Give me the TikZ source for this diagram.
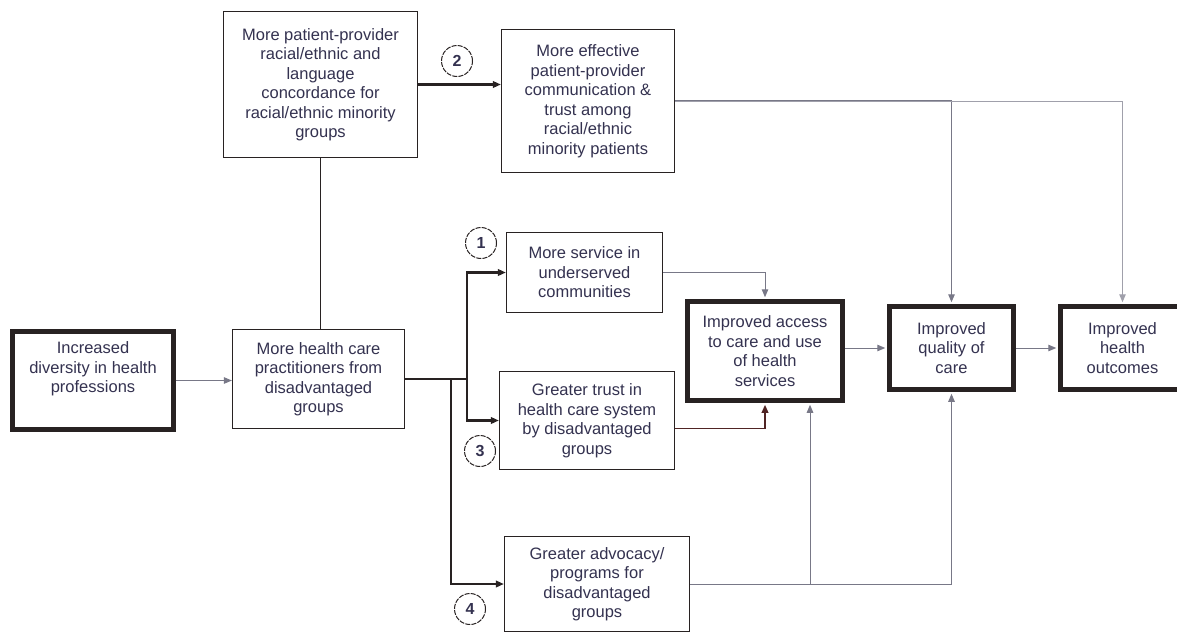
\documentclass[tikz,border=0pt]{standalone}
\usepackage{fontspec}
\setmainfont{Liberation Sans}
\usetikzlibrary{arrows.meta}
\definecolor{ink}{RGB}{52,50,80}
\definecolor{edge}{RGB}{40,34,34}
\definecolor{wire}{RGB}{120,120,135}
\definecolor{rust}{RGB}{80,36,36}

\begin{document}
\begin{tikzpicture}[x=1pt,y=-1pt,
    every node/.style={text=ink,font=\fontsize{16.5}{19.5}\selectfont,align=center,inner sep=0pt},
    box/.style={draw=edge,line width=1.2pt,fill=white},
    heavybox/.style={draw=edge,line width=4.5pt,fill=white},
    num/.style={draw=edge,dash pattern=on 5pt off 1.2pt,circle,minimum size=31pt,line width=1pt,font=\fontsize{16}{19}\selectfont\bfseries},
    tip/.style={-{Triangle[length=8pt,width=6.5pt]}},
    trunk/.style={draw=edge,line width=2.6pt},
    feed/.style={draw=wire,line width=1pt}]
  \useasboundingbox (0,0) rectangle (1177,632);
  % left part
  \node[heavybox,minimum width=161pt,minimum height=98pt] (div) at (93,380.5) {};
  \node (divtxt) at (93,369) {Increased\\diversity in health\\professions};
  \node[box,minimum width=172pt,minimum height=99pt] (hcp) at (318.5,379) {More health care\\practitioners from\\disadvantaged\\groups};
  \node[box,minimum width=194pt,minimum height=146pt] (conc) at (320.5,84.5) {More patient-provider\\racial/ethnic and\\language\\concordance for\\racial/ethnic minority\\groups};
  % middle column
  \node[box,minimum width=173pt,minimum height=143pt] (comm) at (588,101) {More effective\\patient-provider\\communication \&\\trust among\\racial/ethnic\\minority patients};
  \node[box,minimum width=156pt,minimum height=80pt] (serv) at (584.5,272.5) {More service in\\underserved\\communities};
  \node[box,minimum width=175pt,minimum height=98pt] (trust) at (587,420.5) {Greater trust in\\health care system\\by disadvantaged\\groups};
  \node[box,minimum width=185pt,minimum height=95pt] (adv) at (597,584) {Greater advocacy/\\programs for\\disadvantaged\\groups};
  % outcomes
  \node[heavybox,minimum width=155pt,minimum height=99pt] (acc) at (765,351) {Improved access\\to care and use\\of health\\services};
  \node[heavybox,minimum width=124pt,minimum height=83pt] (qual) at (951.5,348) {Improved\\quality of\\care};
  \node[heavybox,minimum width=124pt,minimum height=83pt] (outc) at (1122.5,348) {Improved\\health\\outcomes};
  % pathway numbers
  \node[num] (one) at (481,243) {1};
  \node[num] (two) at (457,61) {2};
  \node[num] (three) at (480,451) {3};
  \node[num] (four) at (470,609) {4};

  % connectors
  \draw[feed,tip] (div) -- (div -| hcp.west);
  \draw[draw=edge,line width=1.4pt] (conc.south) -- (conc.south |- hcp.north);
  \draw[trunk,tip] (conc.east) -- (conc.east -| comm.west);
  \coordinate (fork) at (467,379);
  \coordinate (forkb) at (451,379);
  \draw[trunk] (hcp.east) -- (fork);
  \draw[trunk,tip] (fork) |- (serv.west);
  \draw[trunk,tip] (fork) |- (trust.west);
  \draw[trunk,line width=2pt,tip] (forkb) |- (adv.west);
  % into access
  \draw[feed,tip,shorten >=2pt] (serv.east) -| (acc.north);
  \draw[draw=rust,line width=1.8pt,tip,shorten >=2pt] ([yshift=-8pt]trust.east) -| (acc.south);
  \draw[feed,tip,shorten >=2pt] (adv.east) -| ([xshift=45pt]acc.south);
  \draw[feed,tip,shorten >=2pt] (adv.east) -| (qual.south);
  % to quality and outcomes
  \draw[feed,tip,shorten >=2pt] (acc.east |- qual.west) -- (qual.west);
  \draw[feed,tip,shorten >=2pt] (qual) -- (outc);
  \draw[feed,line width=1.3pt,tip,shorten >=2pt] (comm.east) -| (qual.north);
  \draw[feed,draw=wire!70,tip,shorten >=2pt] (comm.east) -| (outc.north);
\end{tikzpicture}
\end{document}
